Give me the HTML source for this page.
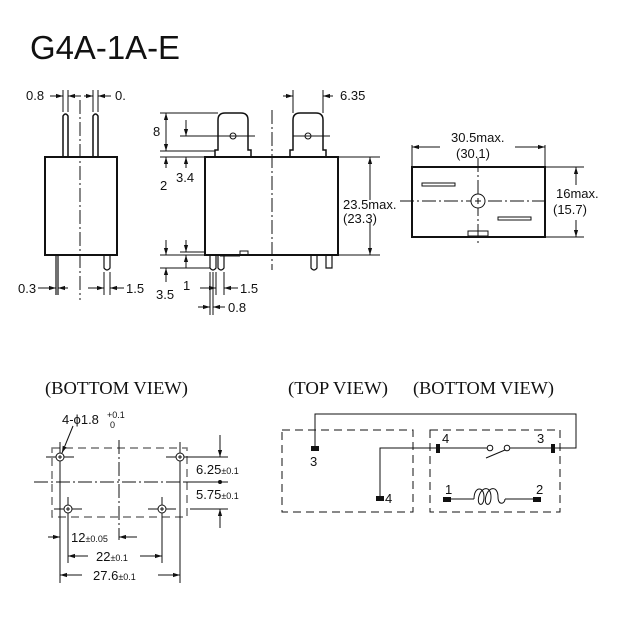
<!DOCTYPE html>
<html><head><style>
html,body{margin:0;padding:0;background:#fff}
svg{display:block}
text{font-family:"Liberation Sans",sans-serif;fill:#111}
.s{font-family:"Liberation Serif",serif}
</style></head><body>
<svg width="619" height="619" viewBox="0 0 619 619" xmlns="http://www.w3.org/2000/svg">
<defs>
<marker id="a" viewBox="0 0 10 10" refX="10" refY="5" markerWidth="7" markerHeight="7" orient="auto-start-reverse"><path d="M0,2 L10,5 L0,8z" fill="#111"/></marker>
</defs>
<g stroke="#111" fill="none" stroke-width="1">
<text x="30" y="59" font-size="33" stroke="none" textLength="150" lengthAdjust="spacingAndGlyphs">G4A-1A-E</text>

<!-- left side view -->
<rect x="45" y="157" width="72" height="98" stroke-width="2"/>
<path d="M63,157 V116 Q65.5,112 68,116 V157 M93,157 V116 Q95.5,112 98,116 V157" stroke-width="1.5"/>
<path d="M80,100 V300" stroke-dasharray="14,3,2,3"/>
<path d="M63,90 V112 M68,90 V112 M93,90 V112 M98,90 V112"/>
<path d="M50,96 H63" marker-end="url(#a)"/><path d="M81,96 H68" marker-end="url(#a)"/>
<path d="M84,96 H93" marker-end="url(#a)"/><path d="M111,96 H98" marker-end="url(#a)"/>
<path d="M56,255 V295 M58,255 V295 M104,255 V268 Q107,272 110,268 V255" stroke-width="1.2"/>
<path d="M104,272 V295 M110,272 V295"/>
<path d="M38,288 H56" marker-end="url(#a)"/><path d="M68,288 H58" marker-end="url(#a)"/>
<path d="M88,288 H104" marker-end="url(#a)"/><path d="M124,288 H110" marker-end="url(#a)"/>

<!-- middle front view -->
<rect x="205" y="157" width="133" height="98" stroke-width="2"/>
<path d="M215,157 V150 H218 V120 Q218,113 225,113 H241 Q248,113 248,120 V150 H251 V157" stroke-width="1.5"/>
<path d="M290,157 V150 H293 V120 Q293,113 300,113 H316 Q323,113 323,120 V150 H326 V157" stroke-width="1.5"/>
<circle cx="233" cy="136" r="3"/><circle cx="308" cy="136" r="3"/>
<path d="M180,136 H255 M293,136 H330"/>
<path d="M272,110 V270" stroke-dasharray="14,3,2,3"/>
<path d="M293,90 V113 M323,90 V113"/>
<path d="M283,96 H293" marker-end="url(#a)"/><path d="M333,96 H323" marker-end="url(#a)"/>
<path d="M160,113 H218 M160,151 H215 M160,157 H205"/>
<path d="M166,125 V113" marker-end="url(#a)"/><path d="M166,140 V151" marker-end="url(#a)"/>
<path d="M166,113 V151"/>
<path d="M166,168 V157" marker-end="url(#a)"/>
<path d="M186,120 V136" marker-end="url(#a)"/><path d="M186,168 V157" marker-end="url(#a)"/>
<path d="M338,157 H380 M338,255 H380"/>
<path d="M370,200 V157" marker-end="url(#a)"/><path d="M370,222 V255" marker-end="url(#a)"/>
<path d="M205,255 H213 M220,256 H240 M240,255 V251 H248 V255 M310,255 H338"/>
<path d="M210,255 V268 Q213,272 216,268 V255 M218,255 V268 Q221,272 224,268 V255 M311,255 V268 Q314,272 317,268 V255 M326,255 V268 H332 V255" stroke-width="1.2"/>
<path d="M160,255 H205 M160,268 H210 M180,252 H205"/>
<path d="M166,240 V255" marker-end="url(#a)"/><path d="M166,282 V268" marker-end="url(#a)"/>
<path d="M186,240 V252" marker-end="url(#a)"/><path d="M186,268 V255" marker-end="url(#a)"/>
<path d="M210,272 V315 M213,272 V315 M216,272 V295 M224,272 V295"/>
<path d="M200,288 H216" marker-end="url(#a)"/><path d="M238,288 H224" marker-end="url(#a)"/>
<path d="M198,307 H210" marker-end="url(#a)"/><path d="M225,307 H213" marker-end="url(#a)"/>

<!-- right top view -->
<rect x="412" y="167" width="133" height="70" stroke-width="2"/>
<path d="M412,145 V167 M545,145 V167"/>
<path d="M440,147 H412" marker-end="url(#a)"/><path d="M515,147 H545" marker-end="url(#a)"/>
<path d="M478,158 V245 M400,201 H548" stroke-dasharray="14,3,2,3"/>
<circle cx="478" cy="201" r="7" fill="#fff"/><path d="M475,201 H481 M478,198 V204"/>
<rect x="422" y="183" width="33" height="3"/><rect x="498" y="217" width="33" height="3"/>
<rect x="468" y="231" width="20" height="5"/>
<path d="M545,167 H584 M545,237 H584"/>
<path d="M576,185 V167" marker-end="url(#a)"/><path d="M576,220 V237" marker-end="url(#a)"/>

<!-- bottom view -->
<rect x="52" y="448" width="135" height="69" stroke="#777" stroke-width="1.5" stroke-dasharray="8,5"/>
<path d="M34,482 H218 M119,440 V540" stroke-dasharray="14,3,2,3"/>
<path d="M46,457 H74 M166,457 H194 M54,509 H82 M148,509 H176"/>
<path d="M60,442 V583 M180,442 V583 M68,497 V563 M162,497 V563"/>
<circle cx="60" cy="457" r="4" fill="#fff"/><circle cx="180" cy="457" r="4" fill="#fff"/>
<circle cx="68" cy="509" r="4" fill="#fff"/><circle cx="162" cy="509" r="4" fill="#fff"/>
<path d="M58,457 H62 M60,455 V459 M178,457 H182 M180,455 V459 M66,509 H70 M68,507 V511 M160,509 H164 M162,507 V511"/>
<path d="M73,426 L62,453" marker-end="url(#a)"/>
<path d="M190,457 H228 M190,509 H228 M184,482 H228"/>
<path d="M220,435 V457" marker-end="url(#a)"/><path d="M220,528 V509" marker-end="url(#a)"/>
<circle cx="220" cy="482" r="1.5" fill="#111"/>
<path d="M48,537 H60" marker-end="url(#a)"/><path d="M137,537 H119" marker-end="url(#a)"/>
<path d="M88,556 H68" marker-end="url(#a)"/><path d="M140,556 H162" marker-end="url(#a)"/>
<path d="M82,575 H60" marker-end="url(#a)"/><path d="M158,575 H180" marker-end="url(#a)"/>

<!-- schematic -->
<rect x="282" y="430" width="131" height="82" stroke-dasharray="8,5"/>
<rect x="430" y="430" width="130" height="82" stroke-dasharray="8,5"/>
<path d="M315,449 V414 H576 V448 H555"/>
<path d="M380,498 V448 H487 M510,448 H555"/>
<circle cx="490" cy="448" r="2.8"/><circle cx="507" cy="448" r="2.8"/>
<path d="M486,458 L505,450"/>
<path d="M447,499 H474 M505,499 H537"/>
<path d="M474,499 C474,486 484,486 484,497 C484,508 476,506 479,496 C482,486 491,486 491,497 C491,508 483,506 486,496 C489,486 498,486 498,497 C498,506 505,504 505,499"/>
</g>
<g fill="#111">
<rect x="311" y="446" width="8" height="5"/><rect x="376" y="496" width="8" height="5"/>
<rect x="436" y="444" width="4" height="9"/><rect x="551" y="444" width="4" height="9"/>
<rect x="443" y="497" width="8" height="5"/><rect x="533" y="497" width="8" height="5"/>
</g>
<g font-size="13">
<text x="26" y="100">0.8</text><text x="115" y="100">0.</text>
<text x="340" y="100">6.35</text>
<text x="153" y="136">8</text><text x="160" y="190">2</text><text x="176" y="182">3.4</text>
<text x="18" y="293">0.3</text><text x="126" y="293">1.5</text>
<text x="156" y="299">3.5</text><text x="183" y="290">1</text>
<text x="240" y="293">1.5</text><text x="228" y="312">0.8</text>
<text x="343" y="209">23.5max.</text><text x="343" y="223">(23.3)</text>
<text x="451" y="142">30.5max.</text><text x="456" y="158">(30.1)</text>
<text x="556" y="198">16max.</text><text x="553" y="214">(15.7)</text>
<text x="62" y="424">4-ϕ1.8</text><text x="107" y="418" font-size="9">+0.1</text><text x="110" y="428" font-size="9">0</text>
<text x="196" y="474">6.25<tspan font-size="9">±0.1</tspan></text>
<text x="196" y="499">5.75<tspan font-size="9">±0.1</tspan></text>
<text x="71" y="542">12<tspan font-size="9">±0.05</tspan></text>
<text x="96" y="561">22<tspan font-size="9">±0.1</tspan></text>
<text x="93" y="580">27.6<tspan font-size="9">±0.1</tspan></text>
<text x="310" y="466">3</text><text x="385" y="503">4</text>
<text x="442" y="443">4</text><text x="537" y="443">3</text>
<text x="445" y="494">1</text><text x="536" y="494">2</text>
</g>
<g font-size="18">
<text class="s" x="45" y="394" textLength="143" lengthAdjust="spacingAndGlyphs">(BOTTOM VIEW)</text>
<text class="s" x="288" y="394" textLength="100" lengthAdjust="spacingAndGlyphs">(TOP VIEW)</text>
<text class="s" x="413" y="394" textLength="141" lengthAdjust="spacingAndGlyphs">(BOTTOM VIEW)</text>
</g>
</svg>
</body></html>
